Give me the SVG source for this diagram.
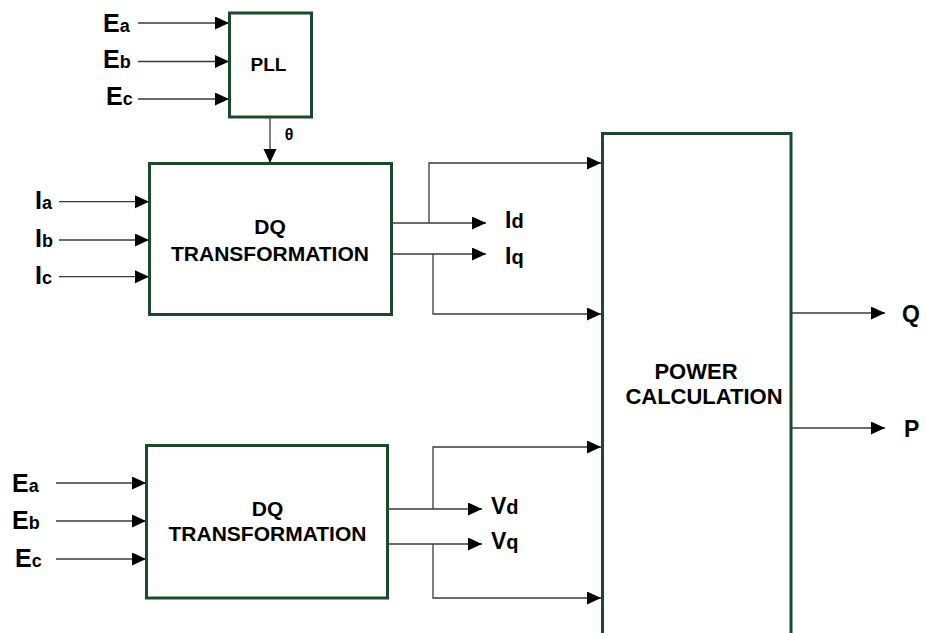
<svg xmlns="http://www.w3.org/2000/svg" width="926" height="633" viewBox="0 0 926 633">
<style>
.box{fill:#fff;stroke:#1d4a2c;stroke-width:3}
.ln{fill:none;stroke:#3a3a3a;stroke-width:1.3}
.t{font-family:"Liberation Sans",Arial,sans-serif;font-weight:bold;fill:#000}
.big{font-size:25px}
.sub{font-size:18px}
.blk{font-size:21px;text-anchor:middle}
</style>
<defs>
<marker id="ah" markerUnits="userSpaceOnUse" markerWidth="15" markerHeight="14" refX="14" refY="6.5" orient="auto">
<path d="M0,0 L14,6.5 L0,13 Z" fill="#000"/>
</marker>
</defs>
<rect width="926" height="633" fill="#fff"/>
<g id="connectors">
<line class="ln" x1="138" y1="23" x2="229" y2="23" marker-end="url(#ah)"/>
<line class="ln" x1="138" y1="61.5" x2="229" y2="61.5" marker-end="url(#ah)"/>
<line class="ln" x1="138" y1="99" x2="229" y2="99" marker-end="url(#ah)"/>
<line class="ln" x1="270" y1="118" x2="270" y2="163" marker-end="url(#ah)"/>
<line class="ln" x1="59" y1="201.7" x2="149" y2="201.7" marker-end="url(#ah)"/>
<line class="ln" x1="59" y1="240" x2="149" y2="240" marker-end="url(#ah)"/>
<line class="ln" x1="59" y1="276.7" x2="149" y2="276.7" marker-end="url(#ah)"/>
<line class="ln" x1="392" y1="223" x2="486" y2="223" marker-end="url(#ah)"/>
<line class="ln" x1="392" y1="254" x2="486" y2="254" marker-end="url(#ah)"/>
<polyline class="ln" points="429,223 429,163 601,163" marker-end="url(#ah)"/>
<polyline class="ln" points="433,254 433,314 601,314" marker-end="url(#ah)"/>
<line class="ln" x1="56" y1="483" x2="146" y2="483" marker-end="url(#ah)"/>
<line class="ln" x1="56" y1="521" x2="146" y2="521" marker-end="url(#ah)"/>
<line class="ln" x1="56" y1="559" x2="146" y2="559" marker-end="url(#ah)"/>
<line class="ln" x1="388" y1="509" x2="482" y2="509" marker-end="url(#ah)"/>
<line class="ln" x1="388" y1="544" x2="482" y2="544" marker-end="url(#ah)"/>
<polyline class="ln" points="433,509 433,447 601,447" marker-end="url(#ah)"/>
<polyline class="ln" points="433,544 433,598 601,598" marker-end="url(#ah)"/>
<line class="ln" x1="791" y1="313" x2="885" y2="313" marker-end="url(#ah)"/>
<line class="ln" x1="791" y1="428" x2="885" y2="428" marker-end="url(#ah)"/>
</g>
<g id="pll">
<rect class="box" x="229.5" y="13" width="82" height="104"/>
<text class="t" x="268.5" y="70.7" font-size="19" text-anchor="middle">PLL</text>
</g>
<g id="dq1">
<rect class="box" x="149.5" y="163.5" width="242" height="151"/>
<text class="t blk" x="270" y="234.3">DQ</text>
<text class="t blk" x="270" y="261">TRANSFORMATION</text>
</g>
<g id="dq2">
<rect class="box" x="146.5" y="445.5" width="241" height="152.5"/>
<text class="t blk" x="267.5" y="516">DQ</text>
<text class="t blk" x="267.5" y="541">TRANSFORMATION</text>
</g>
<g id="power">
<rect class="box" x="602.5" y="133.5" width="188.5" height="520"/>
<text class="t" x="696" y="379" font-size="22" text-anchor="middle">POWER</text>
<text class="t" x="704" y="404" font-size="22" text-anchor="middle">CALCULATION</text>
</g>
<g id="labels">
<text class="t big" x="103" y="31.7">E<tspan class="sub">a</tspan></text>
<text class="t big" x="103" y="68.3">E<tspan class="sub">b</tspan></text>
<text class="t big" x="106" y="105">E<tspan class="sub">c</tspan></text>
<text class="t" x="289" y="140" font-size="16" text-anchor="middle">θ</text>
<text class="t big" x="35" y="209.3">I<tspan class="sub">a</tspan></text>
<text class="t big" x="35" y="247.3">I<tspan class="sub">b</tspan></text>
<text class="t big" x="35" y="284">I<tspan class="sub">c</tspan></text>
<text class="t" x="505" y="228.3" font-size="23">I<tspan font-size="20">d</tspan></text>
<text class="t" x="505" y="264.3" font-size="23">I<tspan font-size="20">q</tspan></text>
<text class="t big" x="12" y="491.7">E<tspan class="sub">a</tspan></text>
<text class="t big" x="12" y="529.3">E<tspan class="sub">b</tspan></text>
<text class="t big" x="15" y="566.7">E<tspan class="sub">c</tspan></text>
<text class="t" x="491" y="514" font-size="23">V<tspan font-size="20">d</tspan></text>
<text class="t" x="491" y="549" font-size="23">V<tspan font-size="20">q</tspan></text>
<text class="t" x="902" y="322" font-size="23">Q</text>
<text class="t" x="904" y="437" font-size="23">P</text>
</g>
</svg>
